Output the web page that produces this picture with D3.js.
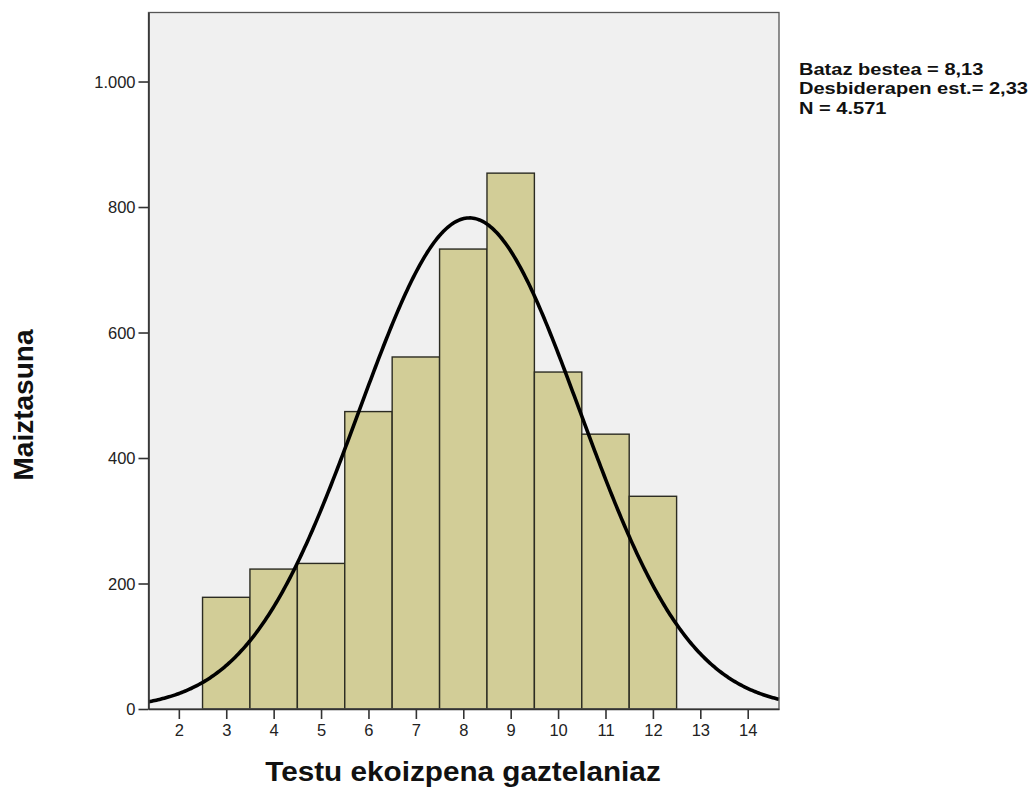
<!DOCTYPE html>
<html>
<head>
<meta charset="utf-8">
<script src="https://cdn.jsdelivr.net/npm/d3@7"></script>
<style>
  html, body { margin: 0; padding: 0; background: #ffffff; }
  svg { display: block; font-family: "Liberation Sans", Arial, sans-serif; }
</style>
</head>
<body>
<svg id="chart" width="1036" height="787"></svg>
<script>
// ---- data ----
const binCenters = [3, 4, 5, 6, 7, 8, 9, 10, 11, 12];
const frequencies = [178, 223, 232, 474, 561, 733, 854, 537, 438, 339];
const xTicks = [2, 3, 4, 5, 6, 7, 8, 9, 10, 11, 12, 13, 14];
const yTicks = [0, 200, 400, 600, 800, 1000];
const statLabels = ["Bataz bestea = 8,13", "Desbiderapen est.= 2,33", "N = 4.571"];
const statMean = [8.13];
const statSd = [2.33];
const statN = [4571];
const binWidth = [1];
const xTitle = "Testu ekoizpena gaztelaniaz";
const yTitle = "Maiztasuna";

// ---- layout ----
const plot = { left: 148.5, right: 779, top: 12.5, bottom: 709 };
const svg = d3.select("#chart");

const x = d3.scaleLinear().domain([1.36, 14.66]).range([plot.left, plot.right]);
const y = d3.scaleLinear().domain([0, 1110]).range([plot.bottom, plot.top]);

const locale = d3.formatLocale({ decimal: ",", thousands: ".", grouping: [3], currency: ["", "€"] });
const fmt = locale.format(",d");

// plot background
svg.append("rect")
  .attr("x", plot.left).attr("y", plot.top)
  .attr("width", plot.right - plot.left).attr("height", plot.bottom - plot.top)
  .attr("fill", "#f0f0f0");

// bars
const bw = binWidth[0];
svg.append("g").selectAll("rect")
  .data(binCenters.map((c, i) => ({ c, v: frequencies[i] })))
  .join("rect")
  .attr("x", d => x(d.c - bw / 2))
  .attr("y", d => y(d.v))
  .attr("width", d => x(d.c + bw / 2) - x(d.c - bw / 2))
  .attr("height", d => y(0) - y(d.v))
  .attr("fill", "#d2cd97")
  .attr("stroke", "#2b2b22")
  .attr("stroke-width", 1.4);

// normal curve from the stated mean, sd and N
const mu = statMean[0], sd = statSd[0], n = statN[0];
const dom = x.domain();
const curvePts = d3.range(0, 401).map(i => {
  const xv = dom[0] + (dom[1] - dom[0]) * i / 400;
  const z = (xv - mu) / sd;
  return [xv, n * bw * Math.exp(-0.5 * z * z) / (sd * Math.sqrt(2 * Math.PI))];
});
svg.append("path")
  .datum(curvePts)
  .attr("fill", "none")
  .attr("stroke", "#000")
  .attr("stroke-width", 3.6)
  .attr("d", d3.line().x(d => x(d[0])).y(d => y(d[1])));

// frame
svg.append("rect")
  .attr("x", plot.left).attr("y", plot.top)
  .attr("width", plot.right - plot.left).attr("height", plot.bottom - plot.top)
  .attr("fill", "none")
  .attr("stroke", "#555")
  .attr("stroke-width", 1.3);

// axes
const yAxis = d3.axisLeft(y).tickValues(yTicks).tickFormat(fmt).tickSize(10).tickSizeOuter(0).tickPadding(3);
const gy = svg.append("g").attr("transform", `translate(${plot.left},0)`).call(yAxis);
const xAxis = d3.axisBottom(x).tickValues(xTicks).tickFormat(d3.format("d")).tickSize(10).tickSizeOuter(0).tickPadding(5);
const gx = svg.append("g").attr("transform", `translate(0,${plot.bottom})`).call(xAxis);

[gy, gx].forEach(g => {
  g.select(".domain").attr("stroke", "#333").attr("stroke-width", 1.6);
  g.selectAll(".tick line").attr("stroke", "#333").attr("stroke-width", 1.6);
  g.selectAll(".tick text").attr("fill", "#222").attr("font-size", "16.5px")
    .attr("font-family", "'Liberation Sans', Arial, sans-serif");
});
gy.selectAll(".tick text").attr("dy", "0.36em");

// axis titles
svg.append("text")
  .attr("transform", `translate(463,781) scale(1.1,1)`)
  .attr("text-anchor", "middle")
  .attr("font-size", "27px").attr("font-weight", "bold").attr("fill", "#111")
  .text(xTitle);

svg.append("text")
  .attr("transform", `translate(33,405) rotate(-90)`)
  .attr("text-anchor", "middle")
  .attr("font-size", "28px").attr("font-weight", "bold").attr("fill", "#111")
  .text(yTitle);

// stats block
const sg = svg.append("g").attr("transform", "translate(799,0) scale(1.18,1)");
sg.selectAll("text").data(statLabels).join("text")
  .attr("x", 0)
  .attr("y", (d, i) => 75 + i * 19.5)
  .attr("font-size", "17px").attr("font-weight", "bold").attr("fill", "#111")
  .text(d => d);
</script>
</body>
</html>
